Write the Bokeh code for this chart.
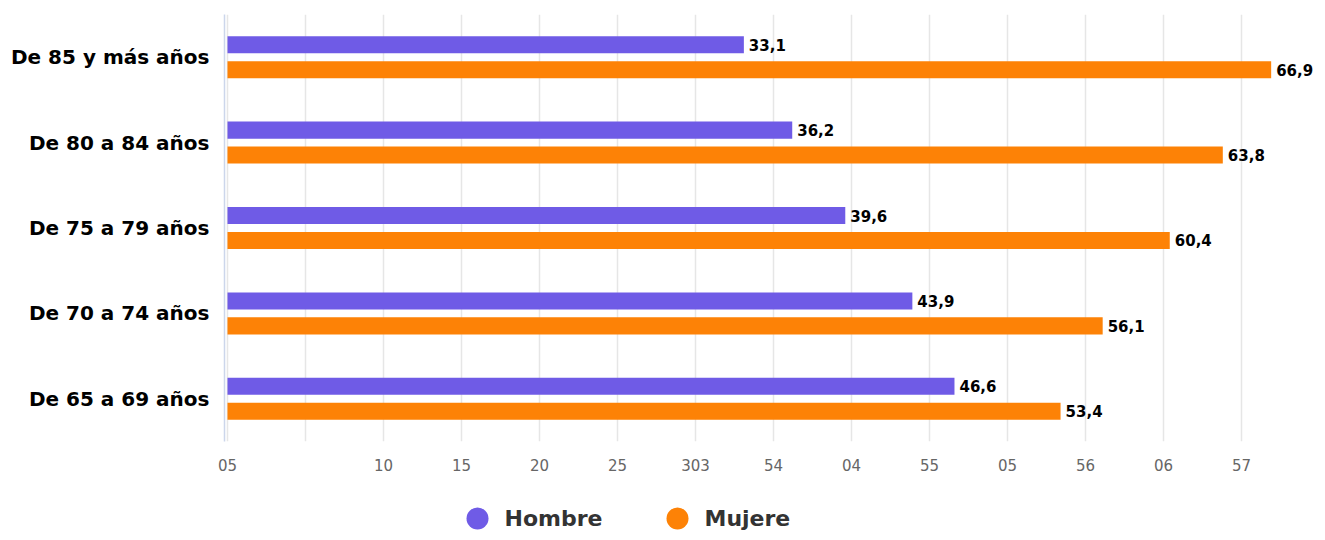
from bokeh.plotting import figure
from bokeh.models import ColumnDataSource, FactorRange, Range1d, FixedTicker
from bokeh.transform import dodge
from bokeh.layouts import column
from bokeh.core.properties import value
from bokeh.embed import file_html
from bokeh.resources import INLINE

# ---- data ----
categories = ["De 85 y más años", "De 80 a 84 años", "De 75 a 79 años",
              "De 70 a 74 años", "De 65 a 69 años"]
hombre = [33.1, 36.2, 39.6, 43.9, 46.6]
mujer = [66.9, 63.8, 60.4, 56.1, 53.4]
series_names = ["Hombre", "Mujere"]
tick_values = [0, 5, 10, 15, 20, 25, 30, 35, 40, 45, 50, 55, 60, 65]
tick_labels = ["05", "", "10", "15", "20", "25", "303", "54", "04", "55", "05", "56", "06", "57"]

PURPLE = "#6f5be6"
ORANGE = "#fd8206"
FONT = "DejaVu Sans"

def fmt(v):
    return f"{v:.1f}".replace(".", ",")

src = ColumnDataSource(dict(
    cat=categories,
    hombre=hombre,
    mujer=mujer,
    hombre_lbl=[fmt(v) for v in hombre],
    mujer_lbl=[fmt(v) for v in mujer],
))

W = 1317
H_MAIN = 480
H_LEG = 52
LEFT = 224

p = figure(
    width=W, height=H_MAIN,
    y_range=FactorRange(factors=list(reversed(categories))),
    x_range=Range1d(-0.192, 69.87),
    output_backend="svg", toolbar_location=None,
    min_border_left=LEFT, min_border_right=0,
    min_border_top=14, min_border_bottom=39,
)
p.outline_line_color = None
p.background_fill_color = "white"
p.border_fill_color = "white"

p.hbar(y=dodge("cat", 0.146, range=p.y_range), left=0, right="hombre", height=0.2,
       source=src, fill_color=PURPLE, line_color=None)
p.hbar(y=dodge("cat", -0.146, range=p.y_range), left=0, right="mujer", height=0.2,
       source=src, fill_color=ORANGE, line_color=None)

p.text(x="hombre", y=dodge("cat", 0.146, range=p.y_range), text="hombre_lbl", source=src,
       x_offset=5, text_align="left", text_baseline="middle",
       text_font=value(FONT), text_font_style="bold", text_font_size="15px", text_color="#000000")
p.text(x="mujer", y=dodge("cat", -0.146, range=p.y_range), text="mujer_lbl", source=src,
       x_offset=5, text_align="left", text_baseline="middle",
       text_font=value(FONT), text_font_style="bold", text_font_size="15px", text_color="#000000")

# x axis
xa = p.xaxis[0]
xa.ticker = FixedTicker(ticks=tick_values)
xa.major_label_overrides = {v: l for v, l in zip(tick_values, tick_labels)}
xa.axis_line_color = None
xa.major_tick_line_color = None
xa.minor_tick_line_color = None
xa.major_tick_out = 0
xa.major_label_standoff = 17
xa.major_label_text_font = FONT
xa.major_label_text_font_size = "15px"
xa.major_label_text_color = "#666666"

# y axis
ya = p.yaxis[0]
ya.axis_line_color = "#ccd6eb"
ya.axis_line_width = 1.5
ya.major_tick_line_color = None
ya.minor_tick_line_color = None
ya.major_tick_out = 0
ya.major_label_standoff = 15
ya.major_label_text_font = FONT
ya.major_label_text_font_style = "bold"
ya.major_label_text_font_size = "20px"
ya.major_label_text_color = "#000000"

p.ygrid.grid_line_color = None
p.xgrid.grid_line_color = "#e6e6e6"
p.xgrid.grid_line_width = 1.5
p.xgrid.ticker = FixedTicker(ticks=tick_values)

# legend strip (x in canvas pixels, frame aligned with the main plot)
leg = figure(
    width=W, height=H_LEG,
    x_range=Range1d(LEFT, W), y_range=Range1d(0, H_LEG),
    output_backend="svg", toolbar_location=None,
    x_axis_location=None, y_axis_location=None,
    min_border_left=LEFT, min_border_right=0, min_border_top=0, min_border_bottom=0,
)
leg.outline_line_color = None
leg.xgrid.visible = False
leg.ygrid.visible = False
leg_src = ColumnDataSource(dict(
    cx=[477, 677], tx=[504, 704], y=[14, 14],
    color=[PURPLE, ORANGE], name=series_names,
))
leg.scatter(x="cx", y="y", size=22, marker="circle", fill_color="color",
            line_color=None, source=leg_src)
leg.text(x="tx", y="y", text="name", source=leg_src, text_align="left",
         text_baseline="middle", text_font=value(FONT), text_font_style="bold",
         text_font_size="22px", text_color="#333333")

layout = column(p, leg, spacing=0)
open("out.html", "w").write(file_html(layout, INLINE))
